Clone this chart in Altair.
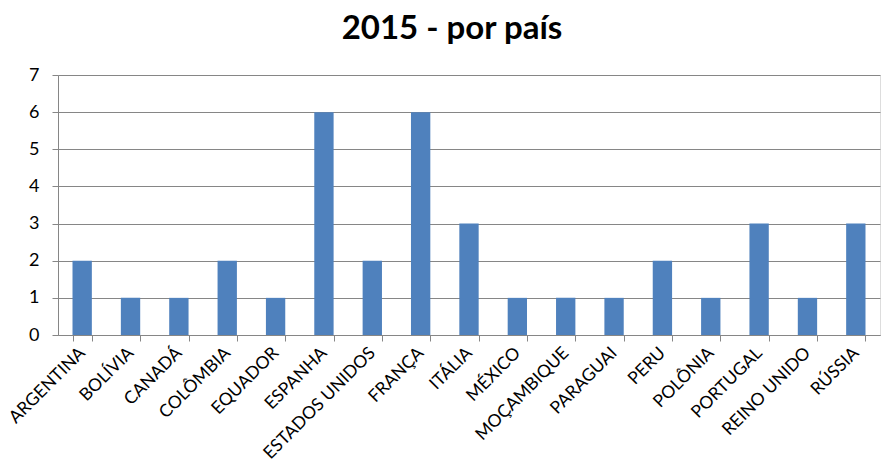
import altair as alt
import pandas as pd

countries = ["ARGENTINA", "BOLÍVIA", "CANADÁ", "COLÔMBIA", "EQUADOR", "ESPANHA",
             "ESTADOS UNIDOS", "FRANÇA", "ITÁLIA", "MÉXICO", "MOÇAMBIQUE", "PARAGUAI",
             "PERU", "POLÔNIA", "PORTUGAL", "REINO UNIDO", "RÚSSIA"]
values = [2, 1, 1, 2, 1, 6, 2, 6, 3, 1, 1, 1, 2, 1, 3, 1, 3]
y_ticks = [0, 1, 2, 3, 4, 5, 6, 7]

df = pd.DataFrame({"pais": countries, "valor": values})

FONT = "Lato"
GRID = "#868686"

chart = alt.Chart(df).mark_bar(color="#4F81BD").encode(
    x=alt.X("pais:N", sort=countries, title=None,
            scale=alt.Scale(paddingInner=0.6, paddingOuter=0.3),
            axis=alt.Axis(labelAngle=-45, labelAlign="right", labelBaseline="middle",
                          labelPadding=9, labelFontSize=17.5, labelFont=FONT,
                          labelColor="#000000", tickBand="extent", tickSize=6,
                          tickColor=GRID, domainColor=GRID, labelOverlap=False,
                          labelLimit=300)),
    y=alt.Y("valor:Q", title=None,
            scale=alt.Scale(domain=[0, 7], nice=False),
            axis=alt.Axis(values=y_ticks, grid=True, gridColor=GRID, tickSize=6,
                          tickColor=GRID, domainColor=GRID, labelPadding=13,
                          labelFontSize=18, labelFont=FONT, labelColor="#000000",
                          format="d")),
).properties(
    width=822,
    height=260,
    title=alt.TitleParams("2015 - por país", fontSize=33, font=FONT, fontWeight="bold",
                          color="#000000", anchor="middle", dx=-17, offset=20),
    padding={"left": 58, "top": 75, "right": 3, "bottom": 130},
    autosize=alt.AutoSizeParams(type="none"),
).configure_view(stroke=None).configure(background="white")

chart.save("out.html", embed_options={"renderer": "svg", "actions": False})
